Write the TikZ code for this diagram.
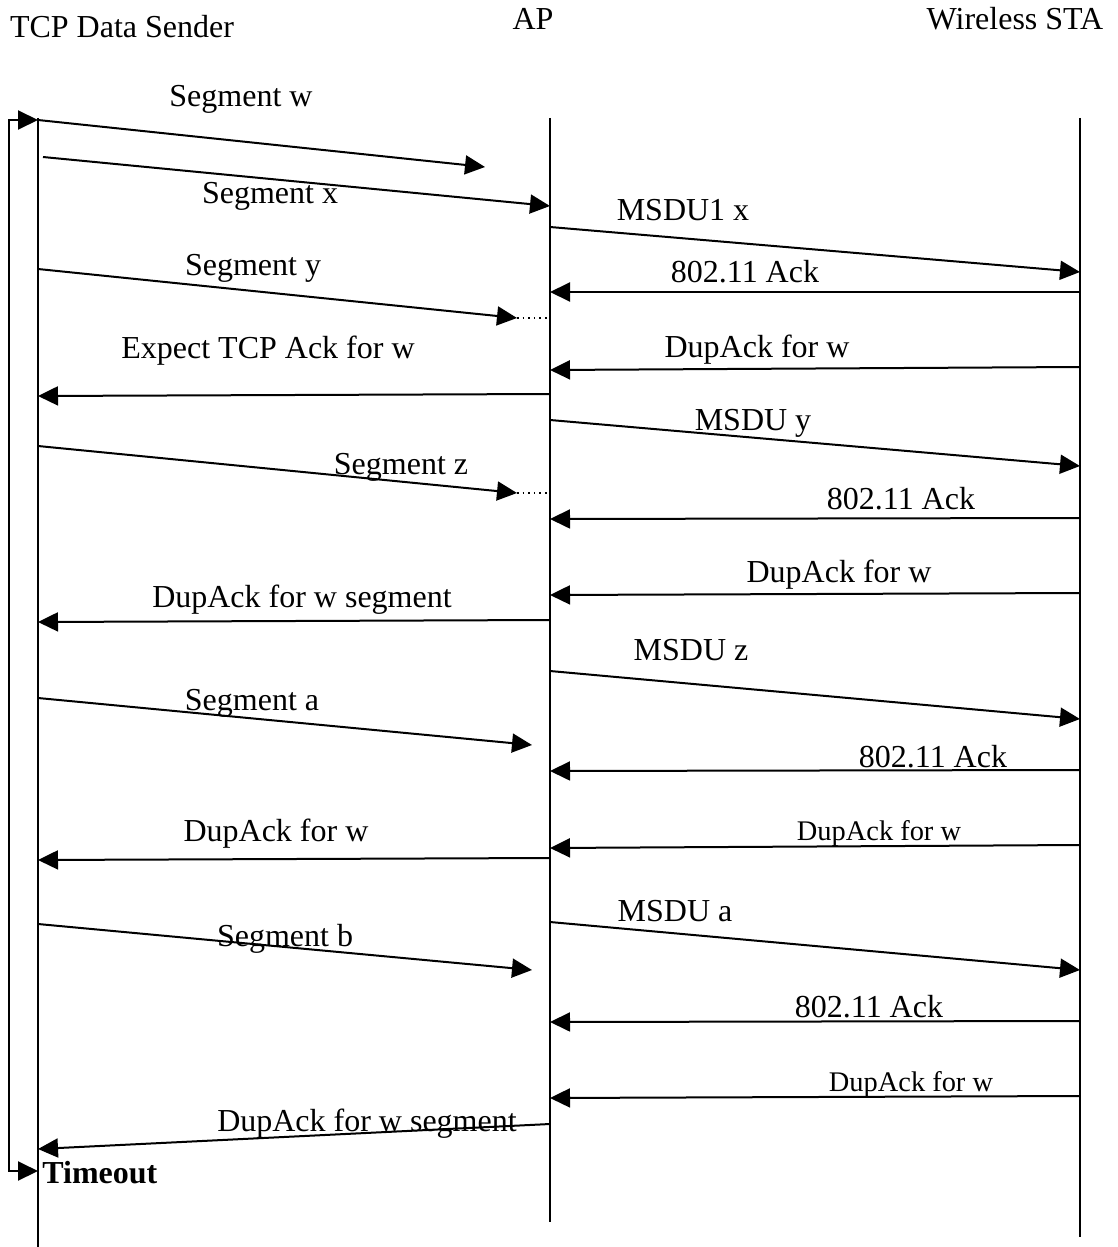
\documentclass[tikz,border=0pt]{standalone}
\usepackage{fontspec}
\setmainfont{Liberation Serif}
\usetikzlibrary{arrows.meta}

\begin{document}
\begin{tikzpicture}[
    x=0.5pt, y=-0.5pt,
    lifeline/.style={line width=0.8pt},
    msg/.style={-{Triangle[length=10pt,width=9.5pt]}, line width=1pt},
    gap/.style={dotted, line width=0.8pt},
    lbl/.style={anchor=base, inner sep=0pt, font=\fontsize{16}{19}\selectfont},
    smalllbl/.style={lbl, font=\fontsize{14.2}{17}\selectfont},
  ]
  \useasboundingbox (0,0) rectangle (1118,1247);

  % participants
  \node[lbl] (tcp) at (122,38)  {TCP Data Sender};
  \node[lbl] (ap)  at (533,30)  {AP};
  \node[lbl] (sta) at (1015,30) {Wireless STA};

  % lifelines
  \coordinate (tcptop) at (38,118);  \coordinate (tcpbot) at (38,1247);
  \coordinate (aptop)  at (550,118); \coordinate (apbot)  at (550,1222);
  \coordinate (statop) at (1080,118);\coordinate (stabot) at (1080,1237);
  \draw[lifeline] (tcptop) -- (tcpbot);
  \draw[lifeline] (aptop) -- (apbot);
  \draw[lifeline] (statop) -- (stabot);

  % timeout bracket
  \coordinate (brtop) at (38,120);
  \coordinate (brbot) at (38,1171);
  \coordinate (brx)   at (9,0);
  \draw[{Triangle[length=10pt,width=9.5pt]}-{Triangle[length=10pt,width=9.5pt]}, line width=1pt]
    (brtop) -| (brx |- brbot) -- (brbot);
  \node[lbl, anchor=base west, font=\fontsize{16}{19}\selectfont\bfseries] (tout) at (42,1183) {Timeout};

  % sender -> AP
  \coordinate (segw0) at (38,120);  \coordinate (segw1) at (485,167);
  \coordinate (segx0) at (43,157);  \coordinate (segx1) at (550,206);
  \coordinate (segy0) at (38,269);  \coordinate (segy1) at (517,318);
  \coordinate (segy2) at (550,318);
  \coordinate (segz0) at (38,446);  \coordinate (segz1) at (517,493);
  \coordinate (segz2) at (550,493);
  \coordinate (sega0) at (38,698);  \coordinate (sega1) at (532,745);
  \coordinate (segb0) at (38,924);  \coordinate (segb1) at (532,970);
  \draw[msg] (segw0) -- (segw1);
  \draw[msg] (segx0) -- (segx1);
  \draw[msg] (segy0) -- (segy1);
  \draw[gap] (segy1) -- (segy2);
  \draw[msg] (segz0) -- (segz1);
  \draw[gap] (segz1) -- (segz2);
  \draw[msg] (sega0) -- (sega1);
  \draw[msg] (segb0) -- (segb1);
  \node[lbl] (lsegw) at (241,107) {Segment w};
  \node[lbl] (lsegx) at (270,203) {Segment x};
  \node[lbl] (lsegy) at (253,275) {Segment y};
  \node[lbl] (lsegz) at (401,474) {Segment z};
  \node[lbl] (lsega) at (252,710) {Segment a};
  \node[lbl] (lsegb) at (285,946) {Segment b};

  % AP -> sender
  \coordinate (exp0) at (550,394);  \coordinate (exp1) at (38,396);
  \coordinate (dws0) at (550,620);  \coordinate (dws1) at (38,622);
  \coordinate (dw0)  at (550,858);  \coordinate (dw1)  at (38,860);
  \coordinate (dwt0) at (550,1124); \coordinate (dwt1) at (38,1149);
  \draw[msg] (exp0) -- (exp1);
  \draw[msg] (dws0) -- (dws1);
  \draw[msg] (dw0) -- (dw1);
  \draw[msg] (dwt0) -- (dwt1);
  \node[lbl] (lexp) at (268,358)  {Expect TCP Ack for w};
  \node[lbl] (ldws) at (302,607)  {DupAck for w segment};
  \node[lbl] (ldw)  at (276,841)  {DupAck for w};
  \node[lbl] (ldwt) at (367,1131) {DupAck for w segment};

  % AP -> STA
  \coordinate (msx0) at (550,227); \coordinate (msx1) at (1080,272);
  \coordinate (msy0) at (550,420); \coordinate (msy1) at (1080,466);
  \coordinate (msz0) at (550,671); \coordinate (msz1) at (1080,719);
  \coordinate (msa0) at (550,922); \coordinate (msa1) at (1080,970);
  \draw[msg] (msx0) -- (msx1);
  \draw[msg] (msy0) -- (msy1);
  \draw[msg] (msz0) -- (msz1);
  \draw[msg] (msa0) -- (msa1);
  \node[lbl] (lmsx) at (683,220) {MSDU1 x};
  \node[lbl] (lmsy) at (753,430) {MSDU y};
  \node[lbl] (lmsz) at (691,660) {MSDU z};
  \node[lbl] (lmsa) at (675,921) {MSDU a};

  % STA -> AP
  \coordinate (ack1a) at (1080,292);  \coordinate (ack1b) at (550,292);
  \coordinate (dup1a) at (1080,367);  \coordinate (dup1b) at (550,370);
  \coordinate (ack2a) at (1080,518);  \coordinate (ack2b) at (550,519);
  \coordinate (dup2a) at (1080,593);  \coordinate (dup2b) at (550,595);
  \coordinate (ack3a) at (1080,770);  \coordinate (ack3b) at (550,771);
  \coordinate (dup3a) at (1080,845);  \coordinate (dup3b) at (550,848);
  \coordinate (ack4a) at (1080,1021); \coordinate (ack4b) at (550,1022);
  \coordinate (dup4a) at (1080,1096); \coordinate (dup4b) at (550,1098);
  \draw[msg] (ack1a) -- (ack1b);
  \draw[msg] (dup1a) -- (dup1b);
  \draw[msg] (ack2a) -- (ack2b);
  \draw[msg] (dup2a) -- (dup2b);
  \draw[msg] (ack3a) -- (ack3b);
  \draw[msg] (dup3a) -- (dup3b);
  \draw[msg] (ack4a) -- (ack4b);
  \draw[msg] (dup4a) -- (dup4b);
  \node[lbl] (lack1) at (745,282)  {802.11 Ack};
  \node[lbl] (ldup1) at (757,357)  {DupAck for w};
  \node[lbl] (lack2) at (901,509)  {802.11 Ack};
  \node[lbl] (ldup2) at (839,582)  {DupAck for w};
  \node[lbl] (lack3) at (933,767)  {802.11 Ack};
  \node[smalllbl] (ldup3) at (879,840)  {DupAck for w};
  \node[lbl] (lack4) at (869,1017) {802.11 Ack};
  \node[smalllbl] (ldup4) at (911,1091) {DupAck for w};
\end{tikzpicture}
\end{document}
